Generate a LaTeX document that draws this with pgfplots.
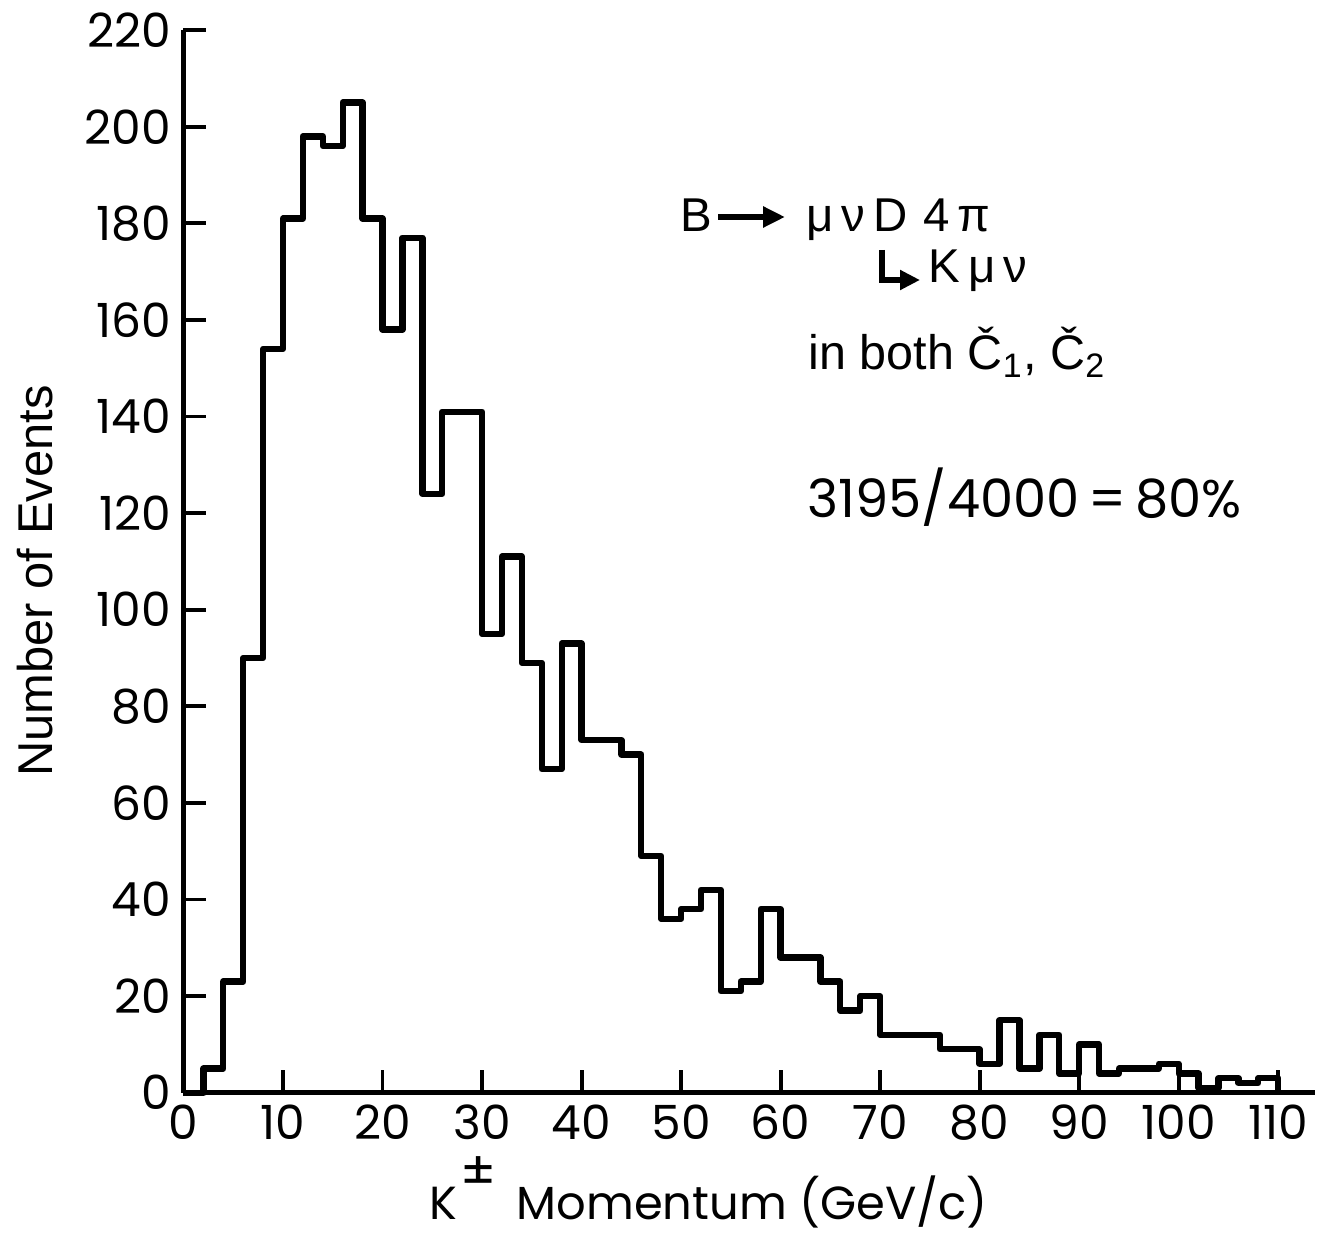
\documentclass[border=0pt]{standalone}
\usepackage{fontspec}
\setmainfont{Poppins}
\newfontfamily\helv{Liberation Sans}
\usepackage{pgfplots}
\pgfplotsset{compat=1.18}
\usetikzlibrary{arrows.meta}

% K momentum histogram, 2 GeV/c bins (left edge, count)
\pgfplotstableread{
x y
0 0
2 5
4 23
6 90
8 154
10 181
12 198
14 196
16 205
18 181
20 158
22 177
24 124
26 141
28 141
30 95
32 111
34 89
36 67
38 93
40 73
42 73
44 70
46 49
48 36
50 38
52 42
54 21
56 23
58 38
60 28
62 28
64 23
66 17
68 20
70 12
72 12
74 12
76 9
78 9
80 6
82 15
84 5
86 12
88 4
90 10
92 4
94 5
96 5
98 6
100 4
102 1
104 3
106 2
108 3
110 0
}\kdata

\begin{document}
\begin{tikzpicture}
\useasboundingbox (-1.835,-1.393) rectangle (11.445,10.927);
\begin{axis}[
  scale only axis, width=11.315cm, height=10.626cm,
  xmin=0, xmax=113.7, ymin=0, ymax=220,
  axis x line=bottom, axis y line=left,
  axis line style={-, line width=1.4pt},
  tick align=inside, major tick length=2.3mm,
  tick style={line width=1.1pt, black},
  xtick={0,10,...,110}, ytick={0,20,...,220},
  ticklabel style={font=\fontsize{13.4}{14}\selectfont},
  /pgf/number format/assume math mode=true,
  xlabel={K\kern1pt\raisebox{8.5pt}{\fontsize{15}{15}\selectfont ±}\, Momentum (GeV/c)},
  xlabel style={font=\fontsize{13.2}{14}\selectfont, anchor=base west, inner sep=0pt,
    at={(axis description cs:0.2165,0)}, yshift=-1.263cm},
  ylabel={Number of Events},
  ylabel style={font=\helv\fontsize{13.9}{14}\selectfont, anchor=base,
    rotate=0, at={(axis description cs:-0.1162,0.4816)}},
  clip=false,
]
\addplot[const plot, black, line width=1.8pt, line join=round] table {\kdata};
\end{axis}
\node[anchor=base west, inner sep=0pt, font=\helv\fontsize{13.5}{14}\selectfont] at (4.965,8.607) {B};
\draw[line width=1.6pt, -{Triangle[length=2.2mm, width=2mm]}] (5.345,8.757) -- (6.015,8.757);
\node[anchor=base west, inner sep=0pt, font=\helv\fontsize{13.5}{14}\selectfont] at (6.225,8.607) {μ\,ν\,D\,\,4\,π};
\draw[line width=1.7pt, -{Triangle[length=2mm, width=1.9mm]}] (6.985,8.427) |- (7.365,8.127);
\node[anchor=base west, inner sep=0pt, font=\helv\fontsize{13.5}{14}\selectfont] at (7.445,8.107) {K\,μ\,ν};
\node[anchor=base west, inner sep=0pt, font=\helv\fontsize{13.8}{14}\selectfont] at (6.245,7.227) {in both Č\textsubscript{1}, Č\textsubscript{2}};
\node[anchor=base west, inner sep=0pt, font=\fontsize{15}{16}\selectfont] at (6.235,5.757) {3195/4000\,=\,80\%};
\end{tikzpicture}
\end{document}
